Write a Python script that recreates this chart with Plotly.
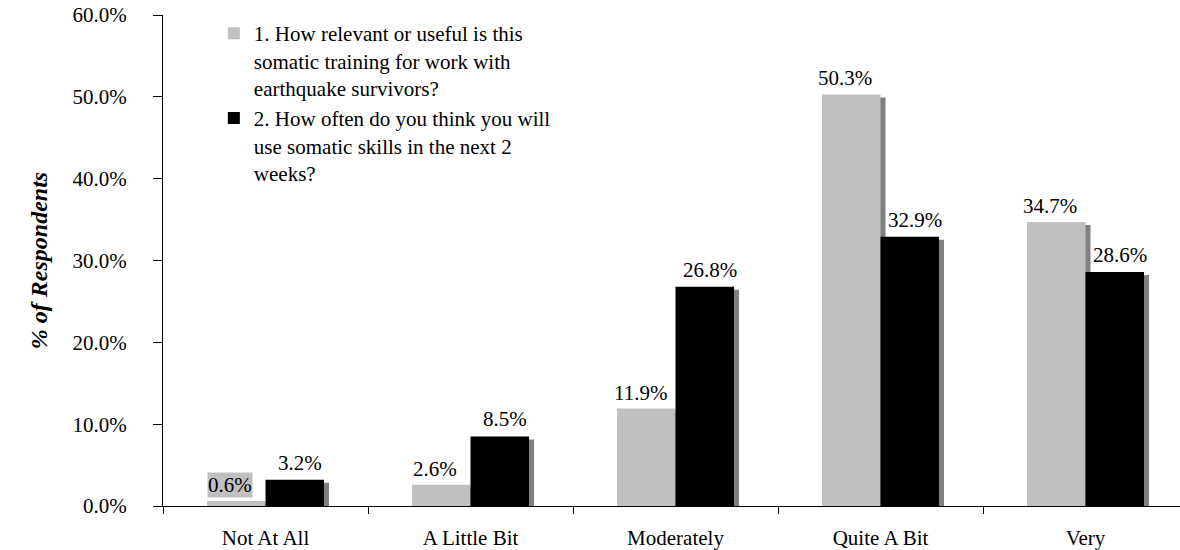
import plotly.graph_objects as go

# ---------------- data ----------------
categories = ["Not At All", "A Little Bit", "Moderately", "Quite A Bit", "Very"]
relevant_pct = [0.6, 2.6, 11.9, 50.3, 34.7]
use_skills_pct = [3.2, 8.5, 26.8, 32.9, 28.6]
series_names = [
    "1. How relevant or useful is this<br>somatic training for work with<br>earthquake survivors?",
    "2. How often do you think you will<br>use somatic skills in the next 2<br>weeks?",
]
y_tick_values = [0, 10, 20, 30, 40, 50, 60]
y_tick_labels = ["0.0%", "10.0%", "20.0%", "30.0%", "40.0%", "50.0%", "60.0%"]
y_title = "% of Respondents"

# ---------------- geometry / style ----------------
W, H = 1180, 550
ML, MR, MT, MB = 163, 0, 15, 44
plot_w = W - ML - MR
plot_h = H - MT - MB
cat_px = 205.0
x_range = [-0.5, -0.5 + plot_w / cat_px]
y_range = [0, 60]
px_per_unit = plot_h / (y_range[1] - y_range[0])
bar_w = 58.5 / cat_px
shadow_dx = 5 / cat_px
shadow_dy = 3 / px_per_unit

FONT = "Liberation Serif, Times New Roman, serif"
FS = 21
GRAY = "#c0c0c0"
BLACK = "#000000"
SHADOW = "#808080"

fig = go.Figure()

# shadows (drawn first, underneath)
for vals, off in [(relevant_pct, -bar_w), (use_skills_pct, 0.0)]:
    fig.add_trace(go.Bar(
        x=categories, y=[v - shadow_dy for v in vals],
        offset=off + shadow_dx, width=bar_w,
        marker=dict(color=SHADOW, line=dict(width=0)),
        showlegend=False, hoverinfo="skip",
    ))

# main bars
fig.add_trace(go.Bar(
    x=categories, y=relevant_pct, name=series_names[0],
    offset=-bar_w, width=bar_w,
    marker=dict(color=GRAY, line=dict(width=0)),
))
fig.add_trace(go.Bar(
    x=categories, y=use_skills_pct, name=series_names[1],
    offset=0.0, width=bar_w,
    marker=dict(color=BLACK, line=dict(width=0)),
))

# data labels
annotations = []
for i, (a, b) in enumerate(zip(relevant_pct, use_skills_pct)):
    annotations.append(dict(
        x=i - bar_w / 2, y=a, xref="x", yref="y", text=f"{a:.1f}%",
        showarrow=False, yanchor="bottom", xshift=-6, yshift=3,
        font=dict(family=FONT, size=FS, color="black"),
        bgcolor=GRAY if i == 0 else None, borderpad=0,
    ))
    annotations.append(dict(
        x=i + bar_w / 2, y=b, xref="x", yref="y", text=f"{b:.1f}%",
        showarrow=False, yanchor="bottom", xshift=5, yshift=3,
        font=dict(family=FONT, size=FS, color="black"),
    ))

fig.update_layout(
    width=W, height=H,
    margin=dict(l=ML, r=MR, t=MT, b=MB, pad=0),
    paper_bgcolor="white", plot_bgcolor="white",
    barmode="overlay",
    font=dict(family=FONT, size=FS, color="black"),
    showlegend=True,
    legend=dict(
        x=0.05, y=1.004, xanchor="left", yanchor="top",
        font=dict(family=FONT, size=FS, color="black"),
        valign="top", bgcolor="rgba(0,0,0,0)", tracegroupgap=0,
    ),
    annotations=annotations,
    xaxis=dict(
        type="category", range=x_range, tickson="boundaries",
        ticks="outside", ticklen=7, tickcolor="black", tickwidth=1,
        showline=True, linecolor="black", linewidth=1,
        showgrid=False, zeroline=False,
        tickfont=dict(family=FONT, size=FS, color="black"),
        ticklabelstandoff=13,
    ),
    yaxis=dict(
        range=y_range, tickvals=y_tick_values, ticktext=y_tick_labels,
        ticks="outside", ticklen=9, tickcolor="black", tickwidth=1,
        showline=True, linecolor="black", linewidth=1,
        showgrid=False, zeroline=False,
        tickfont=dict(family=FONT, size=FS, color="black"),
        ticklabelstandoff=22,
        title=dict(text=f"<b><i>{y_title}</i></b>", standoff=18,
                   font=dict(family=FONT, size=24, color="black")),
    ),
)

fig.write_html("out.html")
